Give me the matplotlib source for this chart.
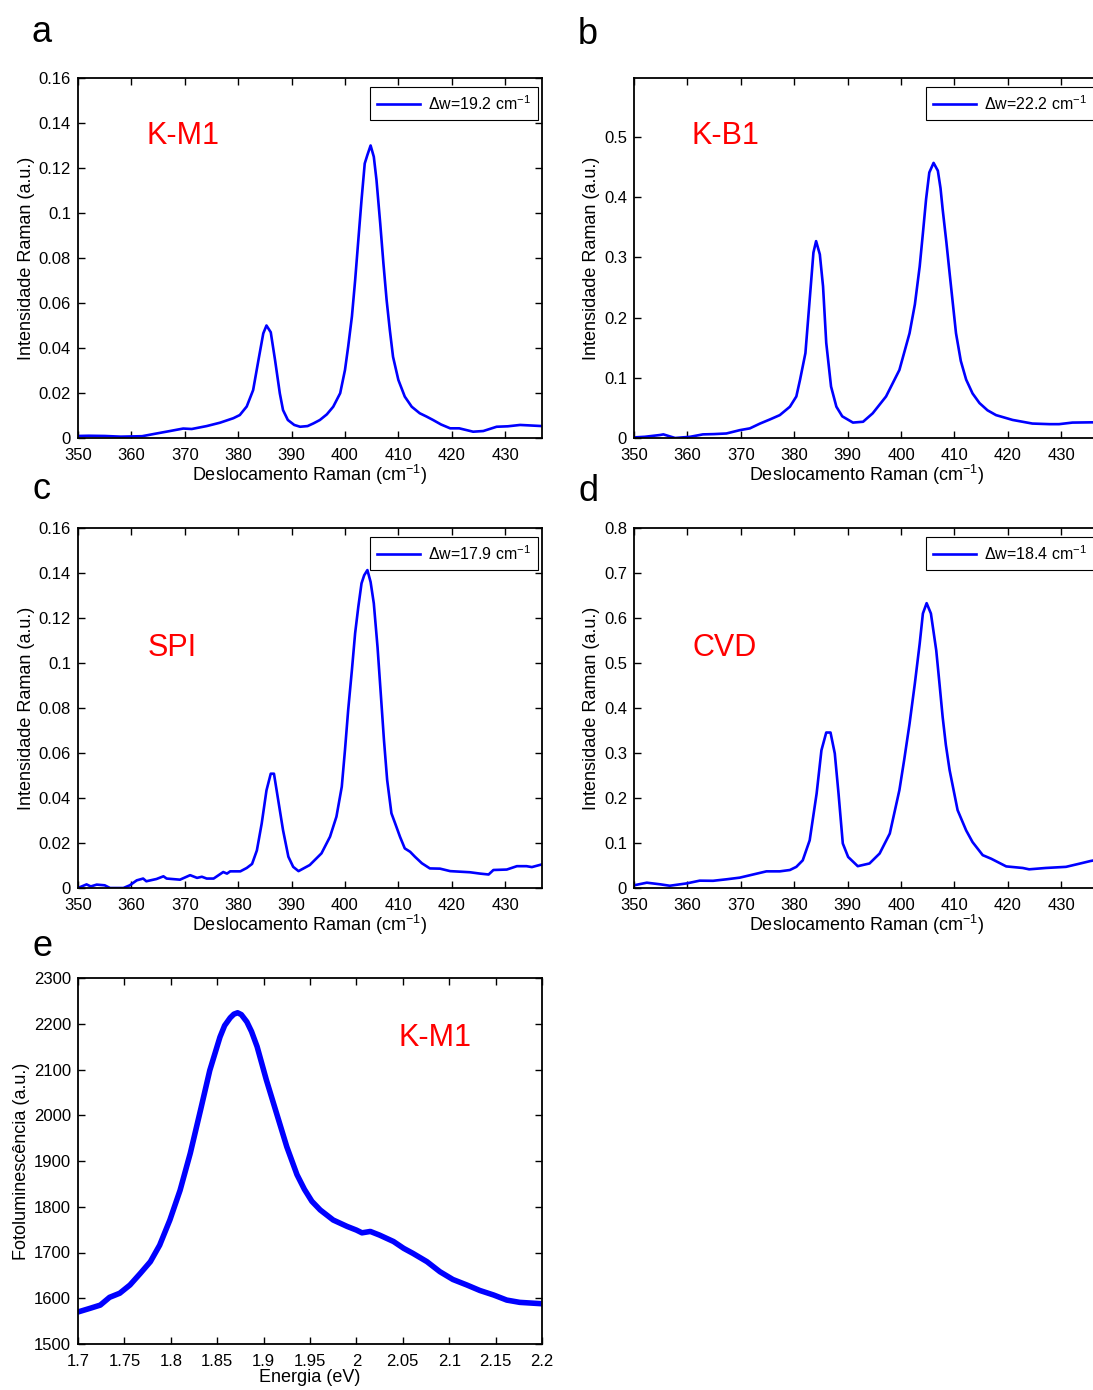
import matplotlib
matplotlib.use("Agg")
import matplotlib.pyplot as plt
from matplotlib.ticker import FuncFormatter

plt.rcParams['font.family'] = ['Liberation Sans', 'DejaVu Sans']
plt.rcParams['mathtext.fontset'] = 'custom'
plt.rcParams['mathtext.rm'] = 'Liberation Sans'
plt.rcParams['mathtext.it'] = 'Liberation Sans:italic'
plt.rcParams['mathtext.bf'] = 'Liberation Sans:bold'

# ---------------- data ----------------
km1_x = [350, 352, 355, 358, 362, 364.7, 367, 369.7, 371.3, 374.1, 376.6, 379.1, 380.3, 381.6,
         382.8, 383.8, 384.7, 385.3, 386.1, 386.9, 387.8, 388.4, 389.3, 390.5, 391.6, 393, 394.1,
         395.3, 396.6, 397.8, 399.1, 400.0, 400.6, 401.3, 401.9, 402.5, 403.1, 403.7, 404.2, 404.8,
         405.4, 405.9, 406.6, 407.2, 407.8, 408.4, 409.0, 410.0, 411.2, 412.5, 414.0, 415.3, 416.5,
         418, 419.7, 421.4, 424, 425.9, 428.4, 430.5, 432.8, 434.5, 436.9]
km1_y = [0.0009, 0.001, 0.0009, 0.0006, 0.0008, 0.002, 0.003, 0.0042, 0.004, 0.0053, 0.0068,
         0.0088, 0.0102, 0.014, 0.0213, 0.0347, 0.0465, 0.050, 0.047, 0.0347, 0.0198, 0.0124,
         0.008, 0.0058, 0.005, 0.0053, 0.0065, 0.008, 0.0105, 0.0139, 0.0199, 0.0302, 0.0406,
         0.054, 0.070, 0.088, 0.1058, 0.122, 0.1258, 0.130, 0.125, 0.1147, 0.0954, 0.0776, 0.0613,
         0.048, 0.0361, 0.0258, 0.0184, 0.0139, 0.011, 0.0095, 0.008, 0.006, 0.0043, 0.0043,
         0.0028, 0.0031, 0.005, 0.0052, 0.0058, 0.0056, 0.0053]

kb1_x = [350, 352, 354.9, 355.5, 357.7, 360.5, 362.9, 365, 367.3, 369.8, 371.7, 373.6, 375.5,
         377.3, 379.2, 380.4, 381.1, 382.1, 383.0, 383.6, 384.1, 384.8, 385.4, 386.0, 386.9, 387.9,
         389, 391.0, 392.9, 394.7, 397.2, 399.7, 401.6, 402.6, 403.5, 404.1, 404.7, 405.3, 406.1,
         406.9, 407.4, 407.8, 408.5, 409.1, 410.3, 411.2, 412.2, 413.4, 414.7, 416.2, 417.8, 420.9,
         424.6, 427.8, 429.6, 432.1, 435.5, 436.9]
kb1_y = [0.001, 0.002, 0.005, 0.006, 0.0, 0.002, 0.006, 0.0065, 0.0075, 0.013, 0.016, 0.024,
         0.031, 0.038, 0.052, 0.069, 0.097, 0.141, 0.241, 0.308, 0.327, 0.305, 0.252, 0.158,
         0.0855, 0.052, 0.036, 0.0256, 0.027, 0.041, 0.069, 0.113, 0.174, 0.222, 0.285, 0.34,
         0.397, 0.441, 0.457, 0.444, 0.415, 0.38, 0.325, 0.274, 0.174, 0.128, 0.097, 0.074, 0.058,
         0.046, 0.038, 0.03, 0.024, 0.023, 0.023, 0.0256, 0.026, 0.026]

spi_x = [350, 351.6, 352.4, 353.5, 355, 356, 358.5, 359.7, 361, 362.2, 362.8, 364.7, 366, 366.6,
         369.1, 371, 372.3, 373.2, 374.1, 375.4, 377.2, 377.9, 378.5, 380.4, 381.6, 382.6, 383.5,
         384.4, 385.3, 386.1, 386.7, 387.5, 388.4, 389.4, 390.3, 391.3, 393.4, 395.6, 397.2, 398.4,
         399.4, 400.0, 400.6, 401.3, 401.9, 402.5, 403.1, 403.6, 404.2, 404.8, 405.4, 406.1, 406.7,
         407.3, 407.9, 408.7, 409.4, 410.3, 411.2, 412.2, 413.1, 414.4, 415.9, 417.8, 419.7, 423.4,
         425.3, 426.9, 427.8, 430.3, 432.2, 434, 435, 436.9]
spi_y = [0, 0.0016, 0.0007, 0.0015, 0.0012, 0, 0, 0.0012, 0.0034, 0.0042, 0.003, 0.004, 0.0052,
         0.0042, 0.0037, 0.0057, 0.0045, 0.005, 0.0042, 0.0042, 0.0071, 0.0064, 0.0074, 0.0074,
         0.0089, 0.0107, 0.0167, 0.0286, 0.0434, 0.0508, 0.0508, 0.039, 0.0257, 0.0139, 0.0094,
         0.0075, 0.0102, 0.0154, 0.0228, 0.0317, 0.045, 0.0613, 0.0791, 0.0969, 0.1132, 0.125,
         0.1354, 0.139, 0.1413, 0.136, 0.1265, 0.107, 0.0865, 0.0658, 0.048, 0.0332, 0.0287,
         0.0228, 0.0176, 0.0161, 0.0139, 0.011, 0.0087, 0.0086, 0.0075, 0.007, 0.0064, 0.006,
         0.008, 0.0082, 0.0097, 0.0097, 0.0093, 0.0105]

cvd_x = [350, 352.4, 354.9, 356.7, 359.9, 362.3, 364.8, 367.3, 369.8, 372.3, 374.8, 377.3, 379.2,
         380.4, 381.6, 382.9, 384.2, 385.1, 386.0, 386.8, 387.6, 388.3, 389.1, 390.1, 391.9, 394.1,
         396.0, 397.9, 399.7, 400.6, 401.6, 402.6, 403.5, 404.1, 404.8, 405.6, 406.6, 407.2, 407.8,
         408.4, 409.1, 410.6, 412.2, 413.4, 415.3, 416.9, 419.7, 422.8, 424, 427.1, 430.9, 433.4,
         435.5, 436.9]
cvd_y = [0.006, 0.0118, 0.0082, 0.005, 0.0103, 0.0163, 0.016, 0.0193, 0.023, 0.030, 0.037, 0.037,
         0.04, 0.047, 0.0615, 0.106, 0.21, 0.306, 0.3455, 0.3455, 0.299, 0.21, 0.099, 0.069,
         0.0485, 0.0545, 0.0767, 0.121, 0.2175, 0.285, 0.365, 0.455, 0.543, 0.61, 0.633, 0.61,
         0.528, 0.455, 0.38, 0.318, 0.262, 0.173, 0.128, 0.102, 0.073, 0.065, 0.048, 0.0445,
         0.0415, 0.0445, 0.047, 0.054, 0.06, 0.063]

pl_x = [1.700, 1.713, 1.724, 1.734, 1.745, 1.756, 1.767, 1.778, 1.788, 1.799, 1.810, 1.821, 1.832,
        1.842, 1.853, 1.858, 1.864, 1.868, 1.872, 1.876, 1.882, 1.887, 1.893, 1.903, 1.914, 1.925,
        1.936, 1.944, 1.952, 1.961, 1.975, 1.990, 2.000, 2.006, 2.015, 2.025, 2.040, 2.051, 2.061,
        2.076, 2.090, 2.104, 2.119, 2.133, 2.148, 2.162, 2.176, 2.200]
pl_y = [1570, 1578, 1585, 1602, 1611, 1629, 1654, 1680, 1716, 1771, 1836, 1917, 2011, 2098, 2171,
        2196, 2213, 2221, 2224, 2220, 2204, 2183, 2150, 2077, 2004, 1931, 1870, 1838, 1812, 1793,
        1771, 1757, 1749, 1743, 1746, 1738, 1724, 1709, 1698, 1680, 1658, 1641, 1629, 1617, 1607,
        1596, 1591, 1588]

raman_xticks = [350, 360, 370, 380, 390, 400, 410, 420, 430]
legend_labels = ['Δw=19.2 cm$^{-1}$', 'Δw=22.2 cm$^{-1}$', 'Δw=17.9 cm$^{-1}$', 'Δw=18.4 cm$^{-1}$']
sample_names = ['K-M1', 'K-B1', 'SPI', 'CVD']
panel_letters = ['a', 'b', 'c', 'd', 'e']

# ---------------- figure ----------------
W, H = 1093, 1390
fig = plt.figure(figsize=(W / 100, H / 100), dpi=100)

def px_axes(x0, y0, x1, y1):
    return fig.add_axes([x0 / W, 1 - y1 / H, (x1 - x0) / W, (y1 - y0) / H])

gfmt = FuncFormatter(lambda v, p: ('%g' % round(v, 6)))

def style(ax):
    ax.tick_params(direction='in', top=True, right=True, length=5, width=1.0,
                   labelsize=12, colors='black')
    ax.tick_params(axis='x', pad=7)
    ax.tick_params(axis='y', pad=5)
    for s in ax.spines.values():
        s.set_linewidth(1.3)
    ax.xaxis.set_major_formatter(gfmt)
    ax.yaxis.set_major_formatter(gfmt)

blue = '#0000FF'
raman = [
    (km1_x, km1_y, (78, 78, 542, 438), (0, 0.16), [0, 0.02, 0.04, 0.06, 0.08, 0.1, 0.12, 0.14, 0.16], (0.226, 0.838)),
    (kb1_x, kb1_y, (634, 78, 1100, 438), (0, 0.598), [0, 0.1, 0.2, 0.3, 0.4, 0.5], (0.196, 0.838)),
    (spi_x, spi_y, (78, 528, 542, 888), (0, 0.16), [0, 0.02, 0.04, 0.06, 0.08, 0.1, 0.12, 0.14, 0.16], (0.203, 0.667)),
    (cvd_x, cvd_y, (634, 528, 1100, 888), (0, 0.8), [0, 0.1, 0.2, 0.3, 0.4, 0.5, 0.6, 0.7, 0.8], (0.194, 0.667)),
]

for i, (xs, ys, box, ylim, yt, tpos) in enumerate(raman):
    ax = px_axes(*box)
    ax.plot(xs, ys, color=blue, lw=1.9, label=legend_labels[i])
    xr = 436.9 if box[2] == 542 else 350 + (box[2] - box[0]) / 5.34
    ax.set_xlim(350, xr)
    ax.set_ylim(*ylim)
    ax.set_xticks(raman_xticks)
    ax.set_yticks(yt)
    style(ax)
    ax.set_xlabel('Deslocamento Raman (cm$^{-1}$)', fontsize=13, labelpad=0)
    ax.set_ylabel('Intensidade Raman (a.u.)', fontsize=13, labelpad=3)
    ax.text(tpos[0], tpos[1], sample_names[i], transform=ax.transAxes, color='red',
            fontsize=22, ha='center', va='center')
    x_anchor = (538 - box[0]) / (box[2] - box[0]) if box[2] == 542 else (538 - 78) / 464 * 464 / (box[2] - box[0])
    leg = ax.legend(loc='upper right', bbox_to_anchor=(x_anchor, 0.975), borderaxespad=0,
                    fontsize=11.5, fancybox=False, framealpha=1, edgecolor='black',
                    handlelength=2.7, handletextpad=0.5, borderpad=0.45)
    leg.get_frame().set_linewidth(0.8)

ax = px_axes(78, 978, 542, 1344)
ax.plot(pl_x, pl_y, color=blue, lw=4.0, solid_capstyle='round', solid_joinstyle='round')
ax.set_xlim(1.7, 2.2)
ax.set_ylim(1500, 2300)
ax.set_xticks([1.7, 1.75, 1.8, 1.85, 1.9, 1.95, 2.0, 2.05, 2.1, 2.15, 2.2])
ax.set_yticks(list(range(1500, 2301, 100)))
style(ax)
ax.set_xlabel('Energia (eV)', fontsize=13, labelpad=0)
ax.set_ylabel('Fotoluminescência (a.u.)', fontsize=13, labelpad=3)
ax.text(0.769, 0.836, 'K-M1', transform=ax.transAxes, color='red', fontsize=22,
        ha='center', va='center')

letter_pos = [(42, 32), (588, 34), (42, 489), (588, 492), (42, 947)]
for (lx, ly), l in zip(letter_pos, panel_letters):
    fig.text(lx / W, 1 - ly / H, l, fontsize=26, ha='center', va='center')

fig.savefig('out.png', dpi=100)
